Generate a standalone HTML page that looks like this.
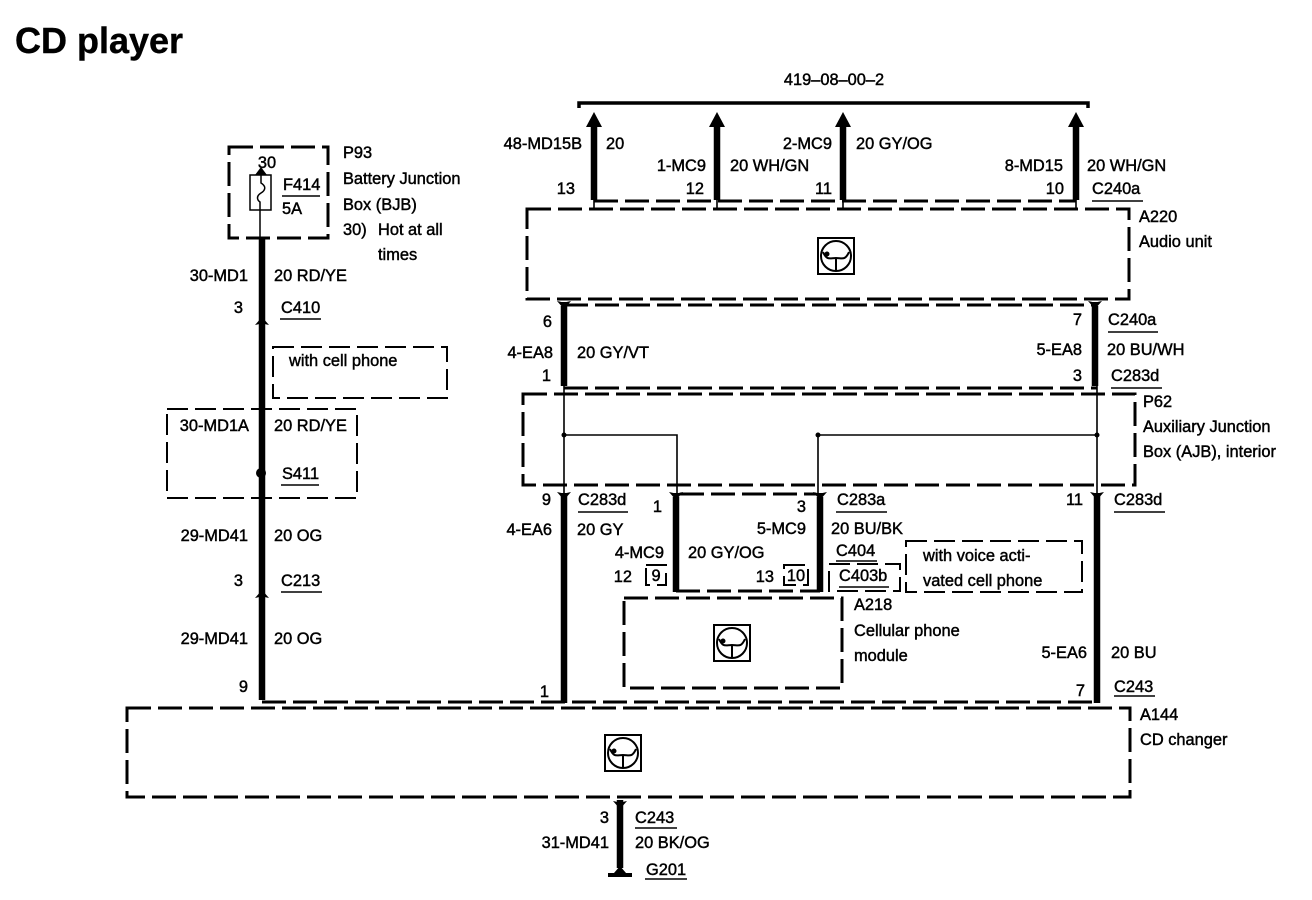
<!DOCTYPE html>
<html>
<head>
<meta charset="utf-8">
<title>CD player</title>
<style>
html,body{margin:0;padding:0;background:#fff;width:1312px;height:900px;overflow:hidden}
svg{display:block}
text{font-family:"Liberation Sans",sans-serif;font-size:16.4px;fill:#000;stroke:#000;stroke-width:.45px}
.e{text-anchor:end}
.m{text-anchor:middle}
.t{font-size:36px;font-weight:bold;stroke-width:.4px}
.d{fill:none;stroke:#000;stroke-width:3;stroke-dasharray:24 7}
.d2{fill:none;stroke:#000;stroke-width:2;stroke-dasharray:21 7}
.w{fill:none;stroke:#000;stroke-width:6.5}
.n{fill:none;stroke:#000;stroke-width:1.6}
.u{stroke:#000;stroke-width:1.5}
</style>
</head>
<body>
<svg width="1312" height="900" viewBox="0 0 1312 900" xmlns="http://www.w3.org/2000/svg">
<defs>
<g id="ic">
<rect x="1" y="1" width="36" height="36" fill="#fff" stroke="#000" stroke-width="2"/>
<circle cx="19" cy="19" r="15" fill="none" stroke="#000" stroke-width="2"/>
<path d="M6 15 C10 24 13 21 19 21 C25 21 28 24 32 15 M19 21 V33" fill="none" stroke="#000" stroke-width="2"/>
<circle cx="10" cy="17" r="2.5" fill="#000"/>
</g>
<path id="up" d="M-7 7 L0 -1 L7 7 L2.5 6 H-2.5 Z" fill="#000"/>
<path id="dn" d="M-7 -7 L0 1 L7 -7 L2.5 -6 H-2.5 Z" fill="#000"/>
</defs>

<text x="15" y="53" class="t">CD player</text>

<!-- top bus -->
<text x="834" y="85" class="m">419–08–00–2</text>
<path d="M579 108 V103 H1088 V108" fill="none" stroke="#000" stroke-width="3.5"/>
<g class="w">
<path d="M594 125 V200M717 125 V200M843 125 V200M1076 125 V200"/>
</g>
<g fill="#000">
<path d="M594 112 L602 127 H586 Z"/>
<path d="M717 112 L725 127 H709 Z"/>
<path d="M843 112 L851 127 H835 Z"/>
<path d="M1076 112 L1084 127 H1068 Z"/>
</g>
<path class="d" d="M594 201 H1076"/>
<g class="n"><path d="M594 200V208M717 200V208M843 200V208M1076 200V208"/></g>

<text x="582" y="149" class="e">48-MD15B</text><text x="606" y="149">20</text>
<text x="706" y="171" class="e">1-MC9</text><text x="730" y="171">20 WH/GN</text>
<text x="832" y="149" class="e">2-MC9</text><text x="856" y="149">20 GY/OG</text>
<text x="1063" y="171" class="e">8-MD15</text><text x="1087" y="171">20 WH/GN</text>
<text x="575" y="194" class="e">13</text>
<text x="704" y="194" class="e">12</text>
<text x="832" y="194" class="e">11</text>
<text x="1064" y="194" class="e">10</text>
<text x="1092" y="194">C240a</text><path class="u" d="M1092 201 H1143"/>

<!-- A220 -->
<rect class="d" x="527" y="209" width="602" height="90"/>
<use href="#ic" x="817" y="237"/>
<text x="1139" y="222">A220</text>
<text x="1139" y="247">Audio unit</text>

<!-- C240a bottom -->
<path class="d" d="M564 305 H1095"/>
<g class="w"><path d="M564 306 V386M1095 306 V386"/></g>
<use href="#dn" x="564" y="308"/><use href="#dn" x="1095" y="308"/>
<text x="552" y="327" class="e">6</text>
<text x="1082" y="325" class="e">7</text>
<text x="1108" y="325">C240a</text><path class="u" d="M1108 332 H1158"/>
<text x="553" y="358" class="e">4-EA8</text><text x="577" y="358">20 GY/VT</text>
<text x="1082" y="355" class="e">5-EA8</text><text x="1107" y="355">20 BU/WH</text>
<text x="551" y="381" class="e">1</text>
<text x="1082" y="381" class="e">3</text>
<text x="1111" y="381">C283d</text><path class="u" d="M1111 388 H1162"/>
<path class="d" d="M564 388 H1097"/>

<!-- P62 -->
<rect class="d" x="523" y="394" width="612" height="91"/>
<text x="1143" y="407">P62</text>
<text x="1143" y="432">Auxiliary Junction</text>
<text x="1143" y="457">Box (AJB), interior</text>
<g class="n">
<path d="M564 386 V495M564 435 H677 V495M1097 386 V495M1097 435 H818 V495"/>
</g>
<circle cx="564" cy="435" r="2.5"/>
<circle cx="818" cy="435" r="2.5"/>
<circle cx="1097" cy="435" r="2.5"/>

<!-- lower wires -->
<g class="w">
<path d="M564 495 V703M1097 495 V703M676 497 V592M820 497 V592"/>
</g>
<use href="#dn" x="564" y="499"/><use href="#dn" x="1097" y="499"/>
<use href="#dn" x="676" y="499"/><use href="#dn" x="820" y="499"/>
<path class="d" d="M680 494 H816"/>
<path class="d" d="M676 591 H820"/>
<text x="551" y="505" class="e">9</text>
<text x="578" y="505">C283d</text><path class="u" d="M578 512 H628"/>
<text x="662" y="512" class="e">1</text>
<text x="806" y="512" class="e">3</text>
<text x="837" y="505">C283a</text><path class="u" d="M836 512 H887"/>
<text x="1083" y="505" class="e">11</text>
<text x="1114" y="505">C283d</text><path class="u" d="M1114 512 H1165"/>
<text x="552" y="535" class="e">4-EA6</text><text x="577" y="535">20 GY</text>
<text x="806" y="534" class="e">5-MC9</text><text x="831" y="534">20 BU/BK</text>
<text x="664" y="558" class="e">4-MC9</text><text x="688" y="558">20 GY/OG</text>
<text x="836" y="556">C404</text><path class="u" d="M836 561 H877"/>
<text x="632" y="582" class="e">12</text>
<text x="774" y="582" class="e">13</text>
<rect class="d2" x="646" y="565" width="20" height="20" stroke-dasharray="6 4"/>
<text x="656" y="581" class="m">9</text>
<rect class="d2" x="784" y="565" width="24" height="20" stroke-dasharray="6 4"/>
<text x="796" y="581" class="m">10</text>
<rect class="d2" x="829" y="564" width="71" height="27" stroke-dasharray="12 5"/>
<text x="839" y="581">C403b</text><path class="u" d="M839 587 H889"/>
<rect class="d2" x="906" y="541" width="176" height="51" stroke-dasharray="14 6"/>
<text x="923" y="561">with voice acti-</text>
<text x="923" y="586">vated cell phone</text>

<!-- A218 -->
<rect class="d" x="624" y="598" width="218" height="90"/>
<use href="#ic" x="713" y="624"/>
<text x="854" y="610">A218</text>
<text x="854" y="636">Cellular phone</text>
<text x="854" y="661">module</text>
<text x="1087" y="658" class="e">5-EA6</text><text x="1111" y="658">20 BU</text>
<text x="549" y="697" class="e">1</text>
<text x="1085" y="696" class="e">7</text>
<text x="1114" y="692">C243</text><path class="u" d="M1114 696 H1155"/>

<!-- left column -->
<rect class="d" x="229" y="147" width="99" height="91"/>
<text x="267" y="168" class="m">30</text>
<path d="M261 167 L267 175 H255 Z" fill="#000"/>
<rect x="250" y="175" width="21" height="35" fill="#fff" stroke="#000" stroke-width="1.5"/>
<path d="M261 175 V183 C266 186 266 190 261 193 C256 196 257 200 260 202 V238" fill="none" stroke="#000" stroke-width="1.5"/>
<text x="283" y="190">F414</text>
<path class="u" d="M282 196 H320"/>
<text x="282" y="214">5A</text>
<text x="343" y="158">P93</text>
<text x="343" y="184">Battery Junction</text>
<text x="343" y="210">Box (BJB)</text>
<text x="343" y="235">30)</text><text x="378" y="235">Hot at all</text>
<text x="378" y="260">times</text>

<path class="w" d="M262 238 V700"/>
<use href="#up" x="262" y="318"/>
<text x="248" y="281" class="e">30-MD1</text><text x="274" y="281">20 RD/YE</text>
<text x="243" y="313" class="e">3</text>
<text x="281" y="313">C410</text><path class="u" d="M280 319 H321"/>
<rect class="d2" x="273" y="347" width="174" height="51" stroke-dasharray="15 6"/>
<text x="289" y="366">with cell phone</text>
<rect class="d2" x="167" y="409" width="190" height="89" stroke-dasharray="15 6"/>
<text x="249" y="431" class="e">30-MD1A</text><text x="274" y="431">20 RD/YE</text>
<circle cx="261" cy="473" r="5"/>
<text x="282" y="479">S411</text><path class="u" d="M281 485 H319"/>
<text x="248" y="541" class="e">29-MD41</text><text x="274" y="541">20 OG</text>
<text x="243" y="586" class="e">3</text>
<text x="281" y="586">C213</text><path class="u" d="M281 592 H322"/>
<use href="#up" x="262" y="591"/>
<text x="248" y="644" class="e">29-MD41</text><text x="274" y="644">20 OG</text>
<text x="248" y="692" class="e">9</text>

<!-- A144 -->
<path class="d" d="M262 702 H1097"/>
<rect class="d" x="127" y="708" width="1003" height="89"/>
<use href="#ic" x="604" y="734"/>
<text x="1140" y="720">A144</text>
<text x="1140" y="745">CD changer</text>

<!-- ground -->
<path class="w" d="M620 800 V868"/>
<use href="#dn" x="620" y="808"/>
<path d="M620 866 L626 873 H632 V877 H608 V873 H614 Z" fill="#000"/>
<text x="609" y="823" class="e">3</text>
<text x="635" y="823">C243</text><path class="u" d="M635 828 H677"/>
<text x="609" y="848" class="e">31-MD41</text><text x="635" y="848">20 BK/OG</text>
<text x="646" y="875">G201</text><path class="u" d="M645 879 H687"/>
</svg>
</body>
</html>
